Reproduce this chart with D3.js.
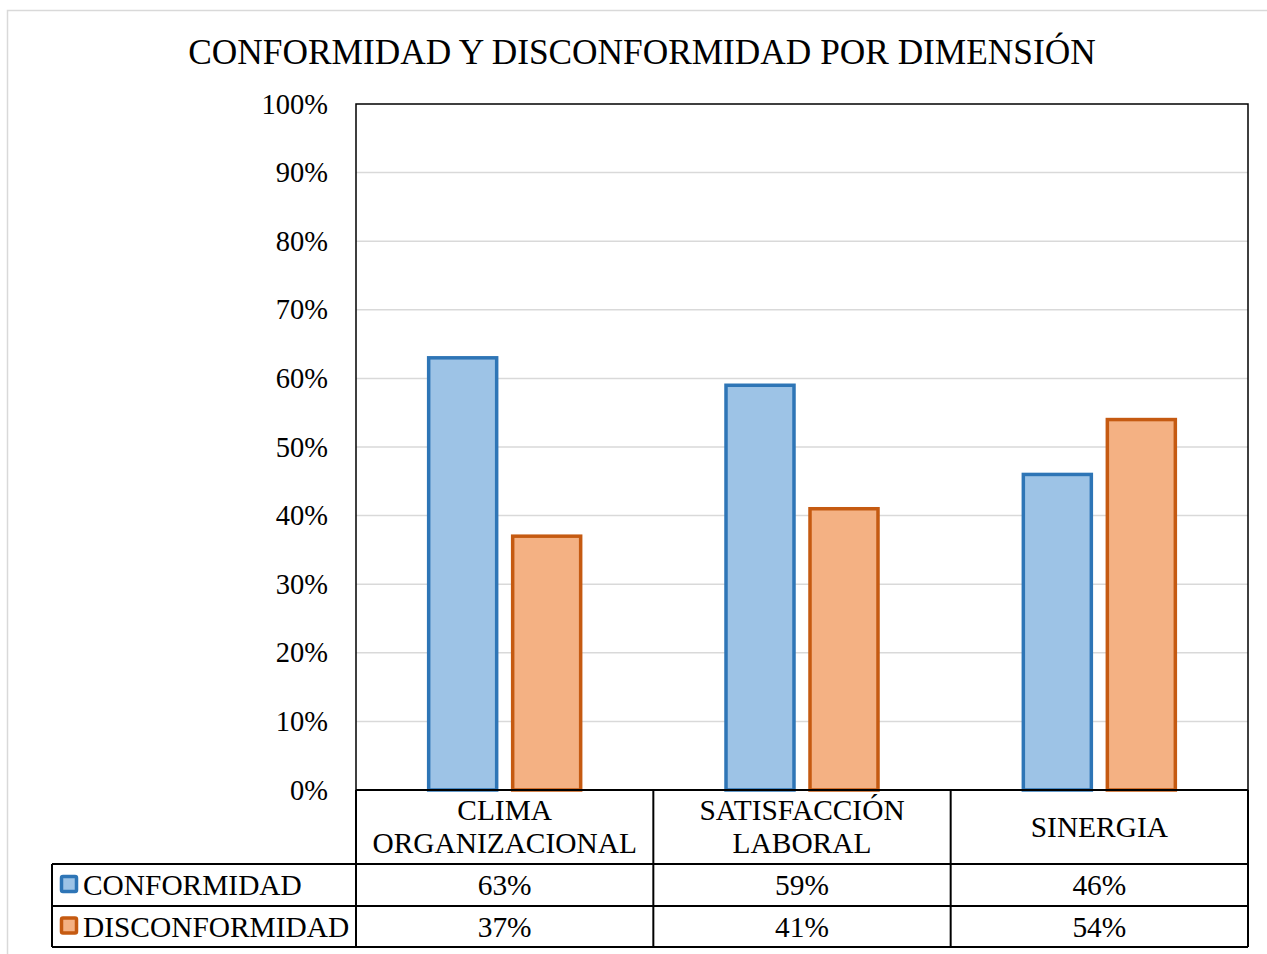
<!DOCTYPE html>
<html><head><meta charset="utf-8">
<script src="https://cdn.jsdelivr.net/npm/d3@7"></script>
<style>body{margin:0;background:#fff}svg{display:block}text{font-family:"Liberation Serif","Times New Roman",serif;fill:#000}</style>
</head><body><div id="c"></div>
<script>
const categories = [["CLIMA","ORGANIZACIONAL"],["SATISFACCIÓN","LABORAL"],["SINERGIA"]];
const seriesNames = ["CONFORMIDAD","DISCONFORMIDAD"];
const conformidad = [63,59,46];
const disconformidad = [37,41,54];
const yTicks = [0,10,20,30,40,50,60,70,80,90,100];
const title = "CONFORMIDAD Y DISCONFORMIDAD POR DIMENSIÓN";

const W=1267,H=954;
const fills=["#9DC3E6","#F4B183"], strokes=["#2E75B6","#C55A11"];
const svg=d3.select("#c").append("svg").attr("width",W).attr("height",H);
svg.append("rect").attr("x",7.5).attr("y",10.5).attr("width",1270).attr("height",960).attr("fill","none").attr("stroke","#D9D9D9").attr("stroke-width",1.5);

const L=356,R=1248,T=104,B=790;
const x=d3.scaleBand().domain(d3.range(categories.length)).range([L,R]);
const y=d3.scaleLinear().domain([0,100]).range([B,T]);
const FS=28.5, FT=29.4;

svg.append("text").attr("x",642).attr("y",64).attr("text-anchor","middle").style("font-size","35.3px").text(title);

// gridlines
svg.append("g").selectAll("line").data(yTicks.filter(d=>d>0&&d<100)).join("line")
 .attr("x1",L).attr("x2",R).attr("y1",d=>y(d)).attr("y2",d=>y(d)).attr("stroke","#D9D9D9").attr("stroke-width",1.5);

// y axis
const ya=svg.append("g").attr("transform",`translate(${L},0)`).call(d3.axisLeft(y).tickValues(yTicks).tickFormat(d=>d+"%").tickSize(0).tickPadding(28));
ya.select(".domain").remove();
ya.selectAll("text").style("font-size",FS+"px").style("font-family","Liberation Serif");

// bars
const bw=68, gap=16;
const series=[conformidad,disconformidad];
series.forEach((s,si)=>{
  svg.append("g").selectAll("rect").data(s).join("rect")
   .attr("x",(d,i)=>x(i)+x.bandwidth()/2 - gap/2 - bw + si*(bw+gap))
   .attr("y",d=>y(d)).attr("width",bw).attr("height",d=>B-y(d))
   .attr("fill",fills[si]).attr("stroke",strokes[si]).attr("stroke-width",3.5);
});

// frame
svg.append("path").attr("d",`M${L},${B}V${T}H${R}V${B}`).attr("fill","none").attr("stroke","#000").attr("stroke-width",1.5);

// data table
const rows=[B,864,906,947], LT=52;
const g=svg.append("g").attr("stroke","#000").attr("stroke-width",2);
g.append("line").attr("x1",L).attr("x2",R).attr("y1",B).attr("y2",B);
[864,906,947].forEach(r=>g.append("line").attr("x1",LT).attr("x2",R).attr("y1",r).attr("y2",r));
g.append("line").attr("x1",LT).attr("x2",LT).attr("y1",864).attr("y2",947);
[0,1,2].forEach(i=>g.append("line").attr("x1",x(i)).attr("x2",x(i)).attr("y1",B).attr("y2",947));
g.append("line").attr("x1",R).attr("x2",R).attr("y1",B).attr("y2",947);

// category labels
categories.forEach((c,i)=>{
  const cx=x(i)+x.bandwidth()/2;
  const t=svg.append("text").attr("text-anchor","middle").style("font-size",FT+"px");
  const y0 = c.length===1 ? 837 : 820;
  c.forEach((ln,j)=>t.append("tspan").attr("x",cx).attr("y",y0+j*33).text(ln));
});

// rows
series.forEach((s,si)=>{
  const cy=(rows[si+1]+rows[si+2])/2;
  svg.append("rect").attr("x",61.5).attr("y",cy-8.5).attr("width",15).attr("height",15).attr("fill",fills[si]).attr("stroke",strokes[si]).attr("stroke-width",3.5).attr("rx",1.5);
  svg.append("text").attr("x",83).attr("y",cy+10).style("font-size",FT+"px").text(seriesNames[si]);
  s.forEach((v,i)=>svg.append("text").attr("x",x(i)+x.bandwidth()/2).attr("y",cy+10).attr("text-anchor","middle").style("font-size",FT+"px").text(v+"%"));
});
</script></body></html>
